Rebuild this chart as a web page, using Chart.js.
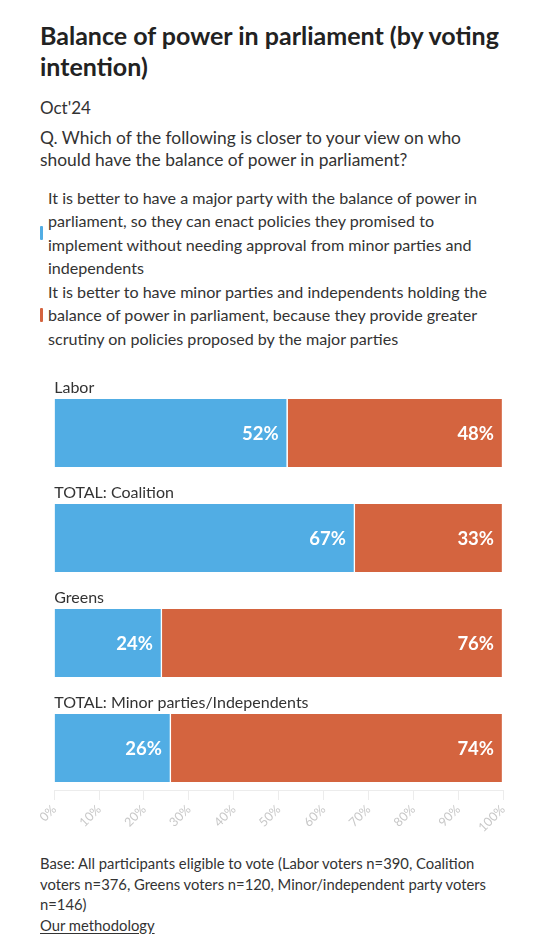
<!DOCTYPE html>
<html>
<head>
<meta charset="utf-8">
<script src="https://cdn.jsdelivr.net/npm/chart.js@4"></script>
<style>
    body { margin: 0; background: #fff; font-family: Lato, sans-serif; color: #333; }
    #page { position: relative; width: 558px; height: 947px; overflow: hidden; }
    .txt { position: absolute; left: 40px; white-space: nowrap; }
    #title { top: 20px; font-size: 25px; font-weight: 700; line-height: 31px; color: #222; }
    #date { top: 97px; font-size: 17px; line-height: 22px; }
    #question { top: 127px; font-size: 17.4px; line-height: 22px; }
    .legend { left: 48px; font-size: 16.1px; line-height: 23.3px; }
    #leg1 { top: 186px; }
    #leg2 { top: 280px; }
    .mark { position: absolute; left: 40px; width: 3px; height: 14px; border-radius: 1px; }
    #wrap { position: absolute; left: 40px; top: 370px; width: 480px; height: 480px; }
    #footer { top: 853px; font-size: 14.8px; line-height: 20.5px; }
    #footer u { text-underline-offset: 2px; }
</style>
</head>
<body>
<div id="page">
    <div class="txt" id="title">Balance of power in parliament (by voting<br>intention)</div>
    <div class="txt" id="date">Oct'24</div>
    <div class="txt" id="question">Q. Which of the following is closer to your view on who<br>should have the balance of power in parliament?</div>
    <div class="mark" id="mark1"></div>
    <div class="txt legend" id="leg1"></div>
    <div class="mark" id="mark2"></div>
    <div class="txt legend" id="leg2"></div>
    <div id="wrap"><canvas id="chart"></canvas></div>
    <div class="txt" id="footer">Base: All participants eligible to vote (Labor voters n=390, Coalition<br>voters n=376, Greens voters n=120, Minor/independent party voters<br>n=146)<br><u>Our methodology</u></div>
</div>
<script>
// datos del gráfico
const categories = ['Labor', 'TOTAL: Coalition', 'Greens', 'TOTAL: Minor parties/Independents'];
const majorParty = [52, 67, 24, 26];
const minorParties = [48, 33, 76, 74];
const seriesNames = [
    'It is better to have a major party with the balance of power in\nparliament, so they can enact policies they promised to\nimplement without needing approval from minor parties and\nindependents',
    'It is better to have minor parties and independents holding the\nbalance of power in\u00a0parliament, because they provide greater\nscrutiny on policies proposed by the major parties'
];
const xTicks = [0, 10, 20, 30, 40, 50, 60, 70, 80, 90, 100];
const COLORS = ['#51ade4', '#d4643f'];

// leyenda en html
[1, 2].forEach((n, i) => {
    const $LEG = document.getElementById('leg' + n);
    $LEG.innerHTML = seriesNames[i].split('\n').join('<br>');
    const $MARK = document.getElementById('mark' + n);
    $MARK.style.background = COLORS[i];
    const lines = seriesNames[i].split('\n').length;
    const top = parseFloat(getComputedStyle($LEG).top);
    $MARK.style.top = (top + lines * 23.3 / 2 - 7) + 'px';
});

// etiquetas de categoría encima de cada barra y valores dentro
const barLabels = {
    id: 'barLabels',
    afterDatasetsDraw(chart) {
        const ctx = chart.ctx;
        ctx.save();
        // categorias
        const first = chart.getDatasetMeta(0).data;
        ctx.font = '16px Lato, sans-serif';
        ctx.fillStyle = '#333';
        ctx.textAlign = 'left';
        ctx.textBaseline = 'alphabetic';
        first.forEach((bar, i) => {
            const top = bar.y - bar.height / 2;
            ctx.fillText(categories[i], chart.chartArea.left, top - 6);
        });
        // valores
        ctx.font = 'bold 18.5px Lato, sans-serif';
        ctx.fillStyle = '#fff';
        ctx.textAlign = 'right';
        ctx.textBaseline = 'middle';
        chart.data.datasets.forEach((ds, d) => {
            chart.getDatasetMeta(d).data.forEach((bar, i) => {
                ctx.fillText(ds.data[i].x + '%', bar.x - 9, bar.y + 1);
            });
        });
        ctx.restore();
    }
};

const toPoints = (arr) => arr.map((v, i) => ({ x: v, y: i }));

new Chart(document.getElementById('chart'), {
    type: 'bar',
    data: {
        datasets: [
            { label: seriesNames[0], data: toPoints(majorParty), backgroundColor: COLORS[0] },
            { label: seriesNames[1], data: toPoints(minorParties), backgroundColor: COLORS[1] }
        ]
    },
    options: {
        indexAxis: 'y',
        responsive: true,
        maintainAspectRatio: false,
        animation: false,
        layout: { padding: { top: 10.5, left: 13, right: 17, bottom: 0 } },
        datasets: {
            bar: {
                barThickness: 68,
                borderColor: '#fff',
                borderWidth: { left: 0, right: 1.5, top: 0, bottom: 0 },
                borderSkipped: false
            }
        },
        scales: {
            x: {
                type: 'linear',
                stacked: true,
                min: 0,
                max: 100,
                afterBuildTicks: (scale) => { scale.ticks = xTicks.map(v => ({ value: v })); },
                afterFit: (scale) => { scale.height = 60; },
                ticks: {
                    callback: (v) => v + '%',
                    color: '#c8c8c8',
                    font: { family: 'Lato', size: 12.5 },
                    minRotation: 45,
                    maxRotation: 45,
                    padding: 2
                },
                grid: { drawOnChartArea: false, drawTicks: true, tickLength: 10, color: '#ececec' },
                border: { display: true, color: '#ececec' }
            },
            y: {
                type: 'linear',
                stacked: true,
                reverse: true,
                offset: false,
                min: -0.5,
                max: 3.4,
                grid: { offset: false },
                display: false
            }
        },
        plugins: {
            legend: { display: false },
            tooltip: { enabled: false }
        }
    },
    plugins: [barLabels]
});
</script>
</body>
</html>
